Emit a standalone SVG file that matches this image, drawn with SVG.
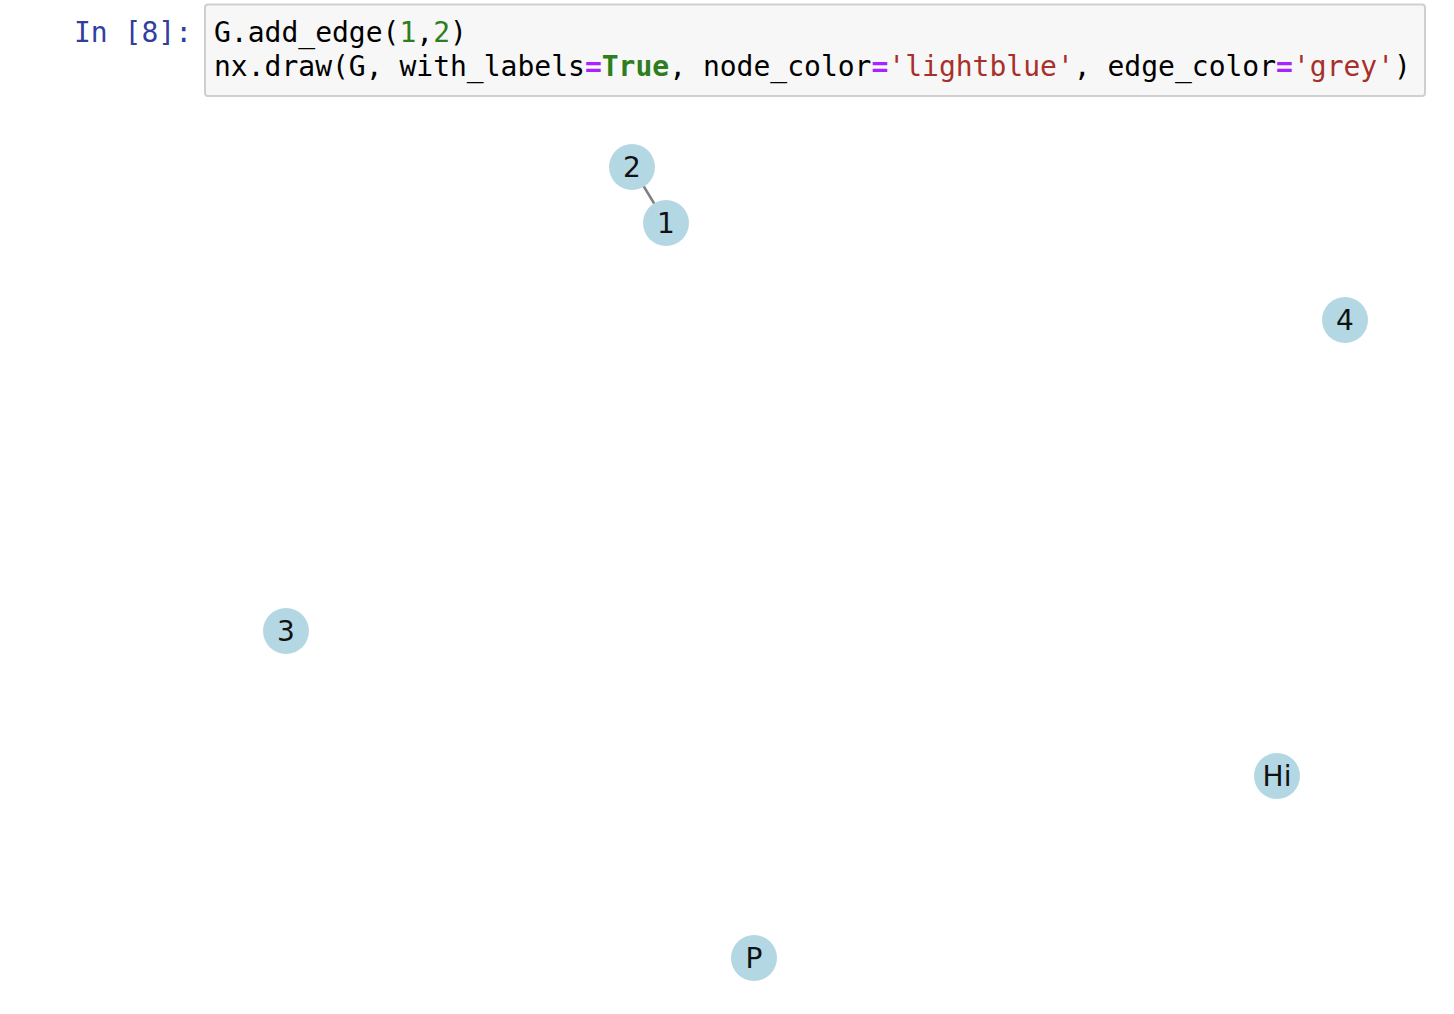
<svg xmlns="http://www.w3.org/2000/svg" width="1454" height="1014" viewBox="0 0 1454 1014">
<style>
.code{font-family:"DejaVu Sans Mono","Liberation Mono",monospace;font-size:28px;fill:#000}
.prompt{font-family:"DejaVu Sans Mono","Liberation Mono",monospace;font-size:28px;fill:#303F9F}
.num{fill:#2E7D1E}.op{fill:#AA22FF;font-weight:bold}.kw{fill:#2E7D1E;font-weight:bold}.str{fill:#A8302B}
.node circle{fill:#B3D7E3}
.node text{font-family:"DejaVu Sans",sans-serif;font-size:28px;fill:#111;text-anchor:middle;dominant-baseline:central}
.edge{stroke:#808080;stroke-width:2.5}
</style>
<rect width="1454" height="1014" fill="#fff"/>
<g id="cell">
<text class="prompt" x="74" y="42">In [8]:</text>
<rect x="205" y="4.5" width="1220" height="91.5" rx="3" fill="#f7f7f7" stroke="#cfcfcf" stroke-width="2"/>
<text class="code" x="214" y="42">G.add_edge(<tspan class="num">1</tspan>,<tspan class="num">2</tspan>)</text>
<text class="code" x="214" y="76">nx.draw(G, with_labels<tspan class="op">=</tspan><tspan class="kw">True</tspan>, node_color<tspan class="op">=</tspan><tspan class="str">'lightblue'</tspan>, edge_color<tspan class="op">=</tspan><tspan class="str">'grey'</tspan>)</text>
</g>
<g id="edges">
<line class="edge" x1="632" y1="167" x2="666" y2="223"/>
</g>
<g id="node-2" class="node"><circle cx="632" cy="167" r="23"/><text x="632" y="167">2</text></g>
<g id="node-1" class="node"><circle cx="666" cy="223" r="23"/><text x="666" y="223">1</text></g>
<g id="node-4" class="node"><circle cx="1345" cy="320" r="23"/><text x="1345" y="320">4</text></g>
<g id="node-3" class="node"><circle cx="286" cy="631" r="23"/><text x="286" y="631">3</text></g>
<g id="node-Hi" class="node"><circle cx="1277" cy="776" r="23"/><text x="1277" y="776">Hi</text></g>
<g id="node-P" class="node"><circle cx="754" cy="958" r="23"/><text x="754" y="958">P</text></g>
</svg>
